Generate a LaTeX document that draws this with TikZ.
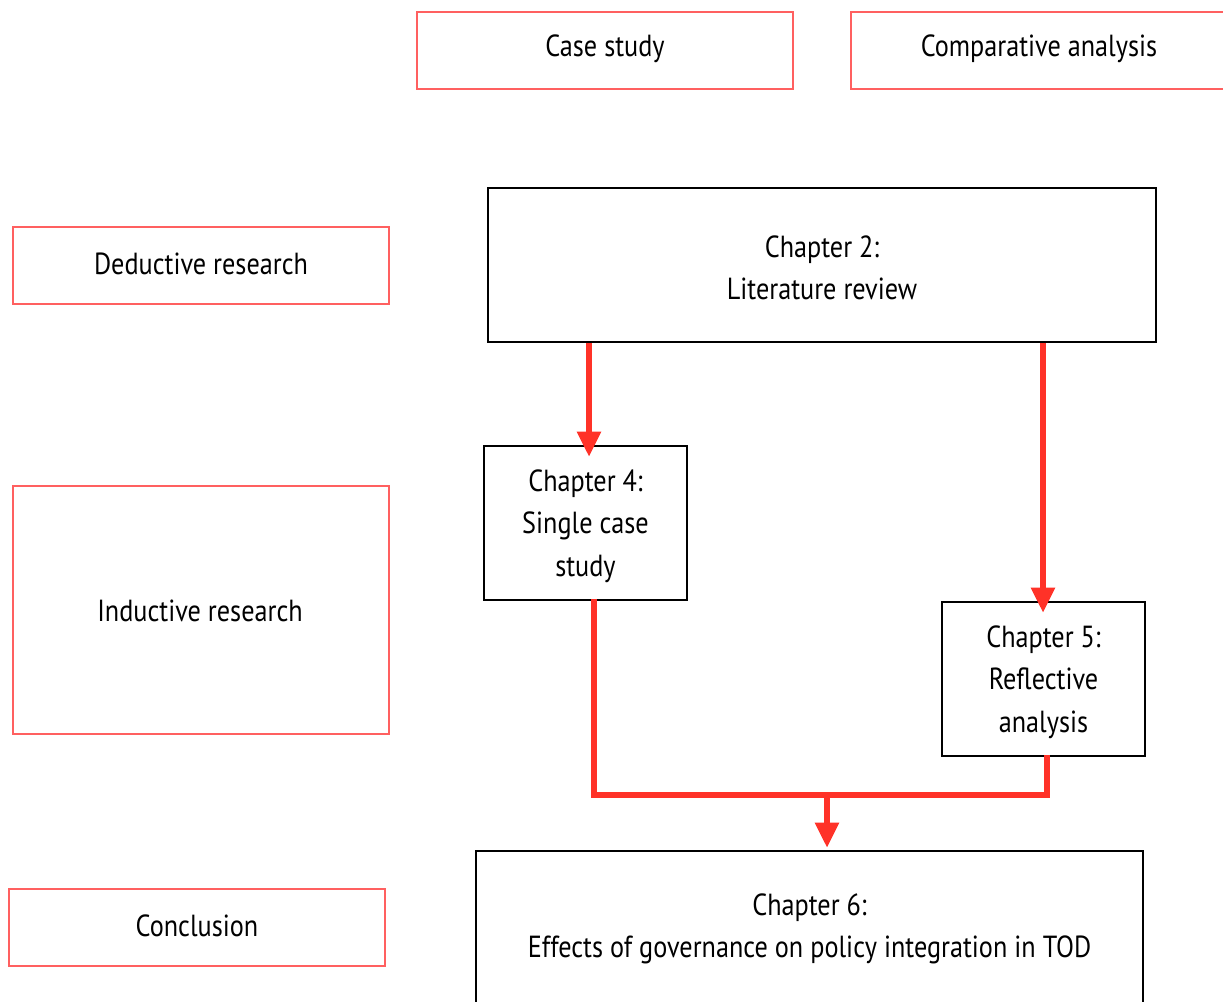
\documentclass[tikz,border=0pt]{standalone}
\usepackage{fontspec}
\setmainfont{PT Sans}[FakeStretch=0.86]
\usetikzlibrary{arrows.meta}
\definecolor{boxred}{RGB}{255,96,96}
\definecolor{flowred}{RGB}{255,50,40}
\begin{document}
\begin{tikzpicture}[x=1pt,y=-1pt,
  every node/.style={font=\fontsize{30.5}{42.5}\selectfont, align=center, inner sep=0pt},
  labelbox/.style={draw=boxred, line width=2.6pt},
  chapbox/.style={draw=black, line width=2.6pt},
  flow/.style={draw=flowred, line width=5.5pt, -{Triangle[width=23pt,length=25pt]}},
  flowline/.style={draw=flowred, line width=5.5pt, line cap=rect}]
\clip (0,0) rectangle (1223,1001);
\fill[white] (0,0) rectangle (1223,1001);

% method boxes (left column and top row)
\draw[labelbox] (417,12) rectangle (793,89);
\node (case) at (605,49) {Case study};
\draw[labelbox] (851,12) rectangle (1240,89);
\node (comp) at (1039,49) {Comparative analysis};
\draw[labelbox] (13,227) rectangle (389,304);
\node (ded) at (201,264) {Deductive research};
\draw[labelbox] (13,486) rectangle (389,734);
\node (ind) at (200,611) {Inductive research};
\draw[labelbox] (9,889) rectangle (385,966);
\node (conc) at (197,926) {Conclusion};

% chapter boxes
\node[chapbox, minimum width=668pt, minimum height=154pt] (ch2) at (822,265) {};
\node (ch2t) at (822,268) {Chapter 2:\\Literature review};
\node[chapbox, minimum width=203pt, minimum height=154pt] (ch4) at (585.5,523) {};
\node (ch4t) at (585.5,526) {Chapter 4:\\Single case\\study};
\node[chapbox, minimum width=203pt, minimum height=154pt] (ch5) at (1043.5,679) {};
\node (ch5t) at (1043.5,682) {Chapter 5:\\Reflective\\analysis};
\node[chapbox, minimum width=667pt, minimum height=170pt] (ch6) at (809.5,936) {};
\node (ch6t) at (809.5,929) {Chapter 6:\\Effects of governance on policy integration in TOD};

% flows
\draw[flow] (ch2.south -| 589,0) -- ([yshift=-12pt]ch4.north -| 589,0);
\draw[flow] (ch2.south -| 1043,0) -- ([yshift=-12pt]ch5.north -| 1043,0);
\coordinate (join) at (827,795);
\draw[flowline] (ch4.south -| 594,0) |- (join) -| (ch5.south -| 1047,0);
\draw[flow] (join) -- ([yshift=2pt]ch6.north -| 827,0);
\end{tikzpicture}
\end{document}
